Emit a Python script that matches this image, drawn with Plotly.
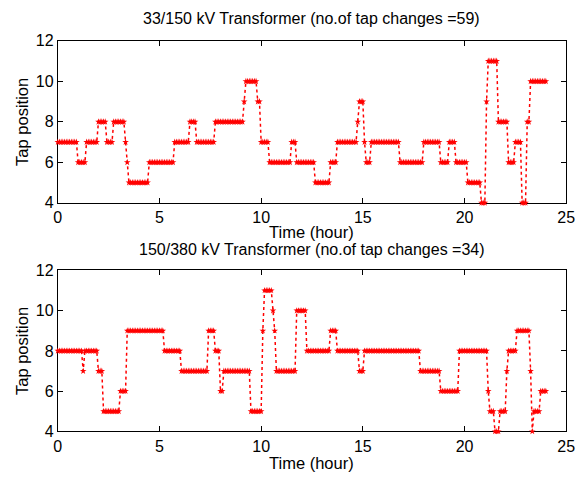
import plotly.graph_objects as go

# Step changes: start time (hour) and tap position
top_change_hours = [0, 1.0, 1.35, 2.0, 2.4, 2.7, 3.28, 3.4, 3.45, 4.5, 5.7, 6.5, 6.8, 7.7,
                    9.12, 9.2, 9.8, 10.0, 10.35, 11.45, 11.7, 12.6, 13.35, 13.7, 14.7, 14.8,
                    15.05, 15.1, 15.35, 16.8, 18.0, 18.8, 19.2, 19.55, 20.1, 20.8, 21.02, 21.1,
                    21.65, 22.1, 22.5, 22.8, 23.05, 23.2]
top_levels = [7, 6, 7, 8, 7, 8, 7, 6, 5, 6, 7, 8, 7, 8,
              9, 10, 9, 7, 6, 7, 6, 5, 6, 7, 8, 9,
              7, 6, 7, 6, 7, 6, 7, 6, 5, 4, 9, 11,
              8, 6, 7, 4, 8, 10]

bot_change_hours = [0, 1.24, 1.3, 1.95, 2.2, 3.05, 3.4, 5.25, 6.05, 7.4, 7.7, 7.95, 8.12,
                    9.5, 10.05, 10.1, 10.52, 10.6, 10.75, 11.7, 12.2, 13.38, 13.73, 14.8,
                    15.05, 17.8, 18.8, 19.75, 21.1, 21.17, 21.45, 21.7, 22.05, 22.12, 22.55,
                    23.22, 23.3, 23.35, 23.7]
bot_levels = [8, 7, 8, 7, 5, 6, 9, 8, 7, 9, 8, 6, 7,
              5, 9, 11, 10, 9, 7, 10, 8, 9, 8, 7,
              8, 7, 6, 8, 6, 5, 4, 5, 7, 8, 9,
              7, 4, 5, 6]

titles = ["33/150 kV Transformer (no.of tap changes =59)",
          "150/380 kV Transformer (no.of tap changes =34)"]
x_ticks = [0, 5, 10, 15, 20, 25]
y_ticks = [4, 6, 8, 10, 12]

samples_per_hour = 12
n_samples = 24 * samples_per_hour + 1


def expand(change_hours, levels):
    t, y = [], []
    for k in range(n_samples):
        h = k / samples_per_hour
        lvl = levels[0]
        for ch, lv in zip(change_hours, levels):
            if h >= ch - 1e-9:
                lvl = lv
        t.append(h)
        y.append(lvl)
    return t, y


FONT = "Liberation Sans, Arial, sans-serif"
fig = go.Figure()

series = [expand(top_change_hours, top_levels), expand(bot_change_hours, bot_levels)]
for i, (t, y) in enumerate(series):
    suffix = "" if i == 0 else "2"
    fig.add_trace(go.Scatter(
        x=t, y=y, mode="lines+markers", cliponaxis=False,
        line=dict(color="#ff0000", width=1.5, dash="dot"),
        marker=dict(color="#ff0000", size=5, symbol="star"),
        xaxis="x" + suffix, yaxis="y" + suffix, showlegend=False))

xdom = [55 / 584, 575 / 584]
ydoms = [[(480 - 202) / 480, (480 - 34) / 480], [(480 - 439) / 480, (480 - 272) / 480]]

axis_common = dict(showline=True, linecolor="black", linewidth=1, mirror="allticks",
                   ticks="inside", ticklen=5, tickcolor="black", showgrid=False,
                   zeroline=False, layer="below traces",
                   tickfont=dict(family=FONT, size=16, color="black"))

fig.update_layout(
    width=584, height=480,
    margin=dict(l=0, r=0, t=0, b=0),
    paper_bgcolor="white", plot_bgcolor="white",
    font=dict(family=FONT, color="black"),
    xaxis=dict(domain=xdom, range=[0, 25], tickvals=x_ticks, anchor="y", **axis_common),
    yaxis=dict(domain=ydoms[0], range=[4, 12], tickvals=y_ticks, anchor="x", **axis_common),
    xaxis2=dict(domain=xdom, range=[0, 25], tickvals=x_ticks, anchor="y2", **axis_common),
    yaxis2=dict(domain=ydoms[1], range=[4, 12], tickvals=y_ticks, anchor="x2", **axis_common),
)

ann = []
xc = (55 + 575) / 2 / 584
for title, ytitle_px, xlab_px, top_px, bot_px in [
        (titles[0], 11, 232.5, 34, 202), (titles[1], 250, 471.5, 272, 439)]:
    ann.append(dict(text=title, x=xc, y=1 - ytitle_px / 480, xref="paper", yref="paper",
                    showarrow=False, xanchor="center", yanchor="middle",
                    font=dict(family=FONT, size=16, color="black")))
    ann.append(dict(text="Time (hour)", x=xc, y=1 - xlab_px / 480, xref="paper", yref="paper",
                    showarrow=False, xanchor="center", yanchor="middle",
                    font=dict(family=FONT, size=16.5, color="black")))
    ann.append(dict(text="Tap position", x=18.5 / 584, y=1 - (top_px + bot_px) / 2 / 480,
                    xref="paper", yref="paper", textangle=-90,
                    showarrow=False, xanchor="center", yanchor="middle",
                    font=dict(family=FONT, size=16.5, color="black")))
fig.update_layout(annotations=ann)

fig.write_html("out.html")
